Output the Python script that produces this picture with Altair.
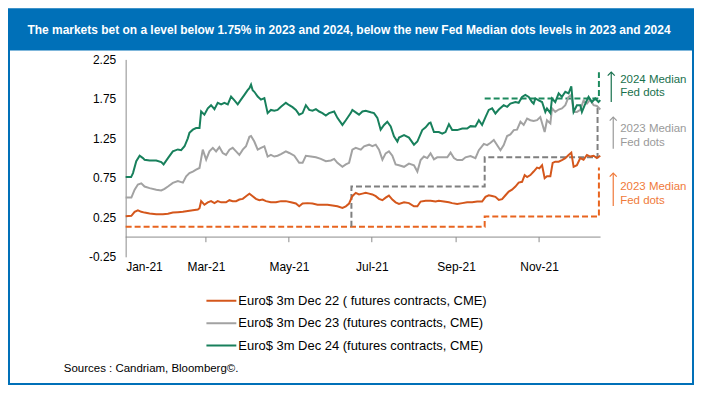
import altair as alt
import pandas as pd

TITLE = "The markets bet on a level below 1.75% in 2023 and 2024, below the new Fed Median dots levels in 2023 and 2024"
SOURCE = "Sources : Candriam, Bloomberg©."
SERIES = ["Euro$ 3m Dec 22 ( futures contracts, CME)",
          "Euro$ 3m Dec 23 (futures contracts, CME)",
          "Euro$ 3m Dec 24 (futures contracts, CME)"]
COLORS = ["#d4571c", "#a2a2a2", "#18805c"]

# day offsets from 2021-01-01 and values (%)
dec22_days = [0, 4.2, 6.6, 9, 11.5, 13.9, 17.6, 22.5, 27.4, 31.1, 34.7, 38.4, 42.1, 45.7, 49.4, 53.1, 54.3, 55.5, 57.9, 60.4,
              62.8, 65.3, 67.7, 70.2, 73.8, 76.3, 78.7, 81.2, 83.6, 86.1, 88.5, 91, 93.4, 95.8, 98.3, 100.7, 103.2, 106.8, 110.5, 114.2,
              117.8, 121.5, 125.2, 127.6, 130.1, 133.7, 137.4, 141.1, 144.7, 148.4, 152.1, 155.7, 159.4, 161.9, 164.3, 166.7, 169.2, 171.6, 174.1, 176.5,
              179, 181.4, 183.9, 186.3, 188.8, 191.2, 193.6, 196.1, 198.5, 201, 204.7, 208.3, 212, 214.5, 216.9, 220.6, 224.2, 227.9, 230.3, 234,
              237.7, 240.1, 243.8, 247.5, 251.1, 254.8, 258.5, 262.1, 264.6, 267, 269.5, 271.9, 274.4, 276.8, 279.3, 281.7, 284.1, 286.6, 289, 291.5,
              293.4, 295.2, 297.6, 300, 302.5, 304.2, 306.2, 308.1, 309.8, 312.3, 314, 315.9, 318.4, 320.8, 323.3, 325.7, 327.7, 329.4, 331.8, 334.3,
              336.7, 339.2, 341.6, 344.1, 346.5, 349]
dec22_vals = [0.265, 0.27, 0.32, 0.34, 0.32, 0.31, 0.30, 0.29, 0.29, 0.295, 0.31, 0.315, 0.32, 0.33, 0.34, 0.35, 0.366, 0.455, 0.41, 0.44,
              0.455, 0.43, 0.455, 0.44, 0.44, 0.467, 0.455, 0.455, 0.475, 0.484, 0.518, 0.55, 0.518, 0.484, 0.467, 0.475, 0.455, 0.44, 0.44, 0.455,
              0.455, 0.44, 0.425, 0.39, 0.425, 0.43, 0.425, 0.41, 0.41, 0.41, 0.40, 0.39, 0.37, 0.39, 0.425, 0.518, 0.56, 0.54, 0.55, 0.56,
              0.55, 0.54, 0.518, 0.484, 0.467, 0.50, 0.526, 0.475, 0.44, 0.42, 0.44, 0.43, 0.39, 0.39, 0.45, 0.46, 0.46, 0.45, 0.46, 0.45,
              0.44, 0.43, 0.42, 0.43, 0.44, 0.44, 0.45, 0.45, 0.51, 0.53, 0.52, 0.51, 0.47, 0.48, 0.53, 0.576, 0.60, 0.64, 0.69, 0.70,
              0.785, 0.76, 0.785, 0.83, 0.88, 0.87, 0.91, 0.745, 0.77, 0.77, 0.94, 0.955, 0.955, 0.975, 1.00, 1.04, 1.07, 0.89, 0.91, 1.00,
              0.98, 1.04, 1.02, 1.03, 1.00, 1.03]

dec23_days = [0, 4.2, 6.6, 9, 11.5, 13.9, 17.6, 22.5, 26.2, 28.6, 31.1, 34.7, 38.4, 42.1, 44.5, 46.9, 49.4, 51.8, 54.3, 56.7,
              59.2, 61.6, 64.1, 66.5, 68.9, 71.4, 73.8, 76.3, 78.7, 81.2, 83.6, 86.1, 88.5, 91, 92.2, 94.6, 97.1, 99.5, 102, 104.4,
              106.8, 109.3, 111.7, 114.2, 117.8, 120.3, 124, 127.6, 130.1, 132.5, 136.2, 139.9, 143.5, 147.2, 150.9, 153.3, 155.7, 159.4, 161.9, 164.3,
              166.7, 169.2, 172.9, 175.3, 179, 181.4, 183.9, 186.3, 188.8, 191.2, 193.6, 196.1, 198.5, 201, 204.7, 208.3, 212, 214.5, 216.9, 219.3,
              221.8, 224.2, 226.7, 229.1, 232.8, 236.5, 238.9, 241.4, 243.8, 247.5, 249.9, 253.6, 257.2, 259.7, 263.4, 265.8, 268.3, 270.7, 273.1, 275.6,
              278, 280.5, 282.9, 285.4, 287.8, 290.3, 292.7, 295.2, 297.6, 300, 302.5, 304.9, 306.6, 308.1, 309.8, 312.3, 313.5, 315.9, 318.4, 320.8,
              323.3, 325.7, 327.7, 329.4, 331.8, 334.3, 336.7, 339.2, 341.6, 344.1, 346.5, 349]
dec23_vals = [0.50, 0.50, 0.60, 0.665, 0.68, 0.64, 0.62, 0.60, 0.59, 0.61, 0.64, 0.686, 0.71, 0.69, 0.77, 0.81, 0.83, 0.855, 0.875, 1.107,
              0.98, 1.085, 1.13, 1.085, 1.14, 1.065, 1.04, 1.107, 1.13, 1.085, 1.04, 1.107, 1.15, 1.27, 1.28, 1.21, 1.107, 1.13, 1.15, 1.02,
              1.04, 1.02, 1.03, 1.05, 1.085, 1.065, 1.03, 0.94, 0.94, 1.03, 1.02, 1.01, 0.99, 0.96, 0.97, 0.99, 0.94, 0.89, 0.92, 0.94,
              1.107, 1.13, 1.107, 1.15, 1.17, 1.15, 1.17, 1.107, 0.98, 1.06, 1.085, 1.03, 0.92, 0.91, 0.89, 0.93, 0.91, 0.83, 0.975, 1.02,
              1.00, 1.06, 0.985, 1.01, 1.01, 1.01, 1.07, 1.00, 0.975, 0.975, 1.01, 1.025, 1.00, 1.10, 1.18, 1.165, 1.195, 1.23, 1.165, 1.10,
              1.165, 1.28, 1.30, 1.355, 1.36, 1.46, 1.42, 1.50, 1.48, 1.47, 1.48, 1.52, 1.42, 1.33, 1.48, 1.44, 1.63, 1.585, 1.615, 1.63,
              1.67, 1.775, 1.80, 1.585, 1.585, 1.61, 1.73, 1.69, 1.74, 1.67, 1.66, 1.615]

dec24_days = [0, 4, 5.4, 7.8, 10.3, 12.7, 13.9, 17.6, 22.5, 26.2, 27.9, 31.1, 34.7, 38.4, 40.8, 43.3, 45.7, 46.9, 49.4, 51.8,
              54.3, 55.5, 57.9, 60.4, 62.8, 65.3, 67.7, 70.2, 72.6, 75.1, 77.5, 80, 82.4, 84.8, 87.3, 89.7, 91, 92.2, 93.4, 94.6,
              97.1, 99.5, 102, 104.4, 106.8, 109.3, 111.7, 114.2, 117.8, 120.3, 122.7, 125.2, 127.6, 130.1, 132.5, 135, 137.4, 139.9, 142.3, 144.7,
              147.2, 149.6, 153.3, 155.7, 159.4, 161.9, 165.5, 166.7, 169.2, 171.6, 174.1, 176.5, 180.2, 182.6, 185.1, 187.5, 190, 192.4, 194.9, 197.3,
              199.8, 201, 204.7, 208.3, 212, 214.5, 218.1, 220.6, 223, 224.2, 226.7, 230.3, 232.8, 235.2, 237.7, 240.1, 243.8, 247.5, 251.1, 253.6,
              257.2, 259.7, 262.1, 264.6, 267, 269.5, 271.9, 274.4, 278, 280.5, 282.9, 286.6, 289, 291.5, 293.9, 296.4, 298.8, 300, 301.3, 303.7,
              306.2, 308.6, 309.8, 312.3, 313.5, 315.9, 318.4, 320.8, 323.3, 325.7, 327.7, 329.4, 331.8, 334.3, 335.5, 338, 340.4, 342.8, 345.3, 347.7,
              349]
dec24_vals = [0.76, 0.76, 0.81, 0.96, 1.03, 1.00, 0.98, 0.97, 0.97, 0.95, 0.92, 1.00, 1.085, 1.11, 1.10, 1.15, 1.25, 1.32, 1.36, 1.38,
              1.38, 1.59, 1.55, 1.63, 1.67, 1.62, 1.70, 1.68, 1.70, 1.68, 1.78, 1.73, 1.68, 1.74, 1.80, 1.86, 1.885, 1.93, 1.86, 1.84,
              1.78, 1.74, 1.76, 1.57, 1.61, 1.60, 1.61, 1.65, 1.70, 1.67, 1.645, 1.61, 1.55, 1.57, 1.67, 1.61, 1.60, 1.62, 1.59, 1.57,
              1.54, 1.57, 1.59, 1.51, 1.42, 1.48, 1.57, 1.61, 1.58, 1.55, 1.59, 1.60, 1.58, 1.57, 1.51, 1.36, 1.42, 1.46, 1.40, 1.275,
              1.21, 1.26, 1.29, 1.26, 1.17, 1.21, 1.355, 1.39, 1.44, 1.45, 1.33, 1.33, 1.31, 1.33, 1.43, 1.355, 1.355, 1.375, 1.375, 1.405,
              1.40, 1.48, 1.42, 1.52, 1.61, 1.63, 1.565, 1.615, 1.67, 1.65, 1.69, 1.71, 1.70, 1.775, 1.80, 1.775, 1.71, 1.69, 1.755, 1.73,
              1.71, 1.585, 1.63, 1.57, 1.755, 1.71, 1.82, 1.775, 1.84, 1.82, 1.91, 1.585, 1.67, 1.67, 1.585, 1.69, 1.775, 1.71, 1.755, 1.71,
              1.735]

# Fed median dots (step dashed lines)
dots22_days = [0, 264, 264, 348, 348]
dots22_vals = [0.13, 0.13, 0.26, 0.26, 0.88]
dots23_days = [166, 166, 264, 264, 347, 347]
dots23_vals = [0.13, 0.64, 0.64, 1.01, 1.01, 1.66]
dots24_days = [264, 348, 348]
dots24_vals = [1.755, 1.755, 2.11]
DOT_COLORS = ["#e8641f", "#7f7f7f", "#1d8a5e"]

# annotations
ANN_LINES = [["2024 Median", "Fed dots"], ["2023 Median", "Fed dots"], ["2023 Median", "Fed dots"]]
ANN_TEXT_Y = [[1.995, 1.826], [1.364, 1.187], [0.639, 0.458]]
ANN_ARROW = [[1.71, 2.09], [1.12, 1.52], [0.395, 0.81]]
ANN_COLORS = ["#17704d", "#9a9a9a", "#f07a3a"]

START = pd.Timestamp("2021-01-01")


def to_dates(days):
    return START + pd.to_timedelta(days, unit="D")


series_df = pd.concat([
    pd.DataFrame({"date": to_dates(d), "v": v, "series": s})
    for d, v, s in [(dec22_days, dec22_vals, SERIES[0]),
                    (dec23_days, dec23_vals, SERIES[1]),
                    (dec24_days, dec24_vals, SERIES[2])]
], ignore_index=True)

dots_df = pd.concat([
    pd.DataFrame({"date": to_dates(d), "v": v, "grp": g, "col": c, "i": list(range(len(d)))})
    for d, v, g, c in [(dots22_days, dots22_vals, "d22", DOT_COLORS[0]),
                       (dots23_days, dots23_vals, "d23", DOT_COLORS[1]),
                       (dots24_days, dots24_vals, "d24", DOT_COLORS[2])]
], ignore_index=True)

W, H = 476, 198
x_scale = alt.Scale(domain=[alt.DateTime(year=2021, month=1, date=1), alt.DateTime(year=2021, month=12, date=16)])
y_scale = alt.Scale(domain=[-0.25, 2.25], nice=False, zero=False)
month_vals = [alt.DateTime(year=2021, month=m, date=1) for m in [1, 3, 5, 7, 9, 11]]

x_axis = alt.Axis(values=month_vals, format="%b-%y", title=None, domain=False, ticks=False, grid=False,
                  labelFontSize=12, labelFont="Liberation Sans", labelColor="#000000", labelPadding=5,
                  labelOverlap=False)
y_axis = alt.Axis(values=[-0.25, 0.25, 0.75, 1.25, 1.75, 2.25],
                  labelExpr="replace(format(datum.value, '.2f'), '\u2212', '-')",
                  title=None, grid=False, ticks=False, domain=True, domainColor="#8c8c8c",
                  labelFontSize=12, labelFont="Liberation Sans", labelColor="#000000", labelPadding=10,
                  labelOverlap=False, labelFlush=False)


def X(field):
    return alt.X(field, type="temporal", scale=x_scale, axis=x_axis)


def Y(field):
    return alt.Y(field, type="quantitative", scale=y_scale, axis=y_axis)


# zero line and ticks
zero_df = pd.DataFrame({"date": to_dates([0]), "date2": to_dates([349.2]), "v": [0.0]})
zero_line = alt.Chart(zero_df).mark_rule(color="#8c8c8c", strokeWidth=1).encode(
    x=X("date"), x2="date2:T", y=Y("v"))
tick_df = pd.DataFrame({"date": to_dates([59, 120, 181, 243, 304]), "v": [0.0] * 5, "v2": [-0.065] * 5})
ticks = alt.Chart(tick_df).mark_rule(color="#8c8c8c", strokeWidth=1).encode(
    x=X("date"), y=Y("v"), y2="v2:Q")

dots = alt.Chart(dots_df).mark_line(strokeDash=[6, 3], strokeWidth=2).encode(
    x=X("date"), y=Y("v"), detail="grp:N", order="i:Q", stroke=alt.Stroke("col:N", scale=None))

lines = alt.Chart(series_df).mark_line(strokeWidth=2).encode(
    x=X("date"), y=Y("v"),
    color=alt.Color("series:N", scale=alt.Scale(domain=SERIES, range=COLORS),
                    sort=SERIES,
                    legend=alt.Legend(title=None, orient="none", legendX=80, legendY=234, direction="vertical",
                                      symbolType="stroke", symbolSize=900, symbolStrokeWidth=2,
                                      labelFontSize=13, labelFont="Liberation Sans", labelColor="#000000",
                                      labelOffset=1, clipHeight=16, rowPadding=6.5, padding=0, labelLimit=400)))

# annotations
ann_rows = []
for lines_, ys, c in zip(ANN_LINES, ANN_TEXT_Y, ANN_COLORS):
    for t, yv in zip(lines_, ys):
        ann_rows.append({"t": t, "v": yv, "c": c})
ann_df = pd.DataFrame(ann_rows)
arrow_df = pd.DataFrame({"v": [a[0] for a in ANN_ARROW], "v2": [a[1] for a in ANN_ARROW], "c": ANN_COLORS,
                         "px": [487, 489, 489]})

ann_text = alt.Chart(ann_df).mark_text(align="left", baseline="middle", fontSize=11.5, font="Liberation Sans").encode(
    x=alt.value(496), y=Y("v"), text="t:N", fill=alt.Fill("c:N", scale=None))
arrow_shaft = alt.Chart(arrow_df).mark_rule(strokeWidth=1.2).encode(
    x=alt.X("px:Q", scale=None), y=Y("v"), y2="v2:Q", stroke=alt.Stroke("c:N", scale=None))
arrow_head = alt.Chart(arrow_df).mark_point(shape="M-1,1L0,0L1,1", filled=False, size=50, strokeWidth=1.2,
                                            opacity=1).encode(
    x=alt.X("px:Q", scale=None), y=Y("v2"), stroke=alt.Stroke("c:N", scale=None))

# frame, header, source
one = pd.DataFrame({"a": [0]})
frame = alt.Chart(one).mark_rect(filled=False, stroke="#0070b8", strokeWidth=2).encode(
    x=alt.value(-117), x2=alt.value(569), y=alt.value(-50), y2=alt.value(325.5))
header = alt.Chart(one).mark_rect(fill="#0070b8").encode(
    x=alt.value(-118), x2=alt.value(570), y=alt.value(-51), y2=alt.value(-9))
title = alt.Chart(one).mark_text(fill="#ffffff", fontWeight="bold", fontSize=12, font="Liberation Sans",
                                 align="center", baseline="middle").encode(
    x=alt.value(224), y=alt.value(-29), text=alt.value(TITLE))
source = alt.Chart(one).mark_text(fill="#000000", fontSize=11.5, font="Liberation Sans",
                                  align="left", baseline="middle").encode(
    x=alt.value(-62), y=alt.value(311), text=alt.value(SOURCE))

chart = alt.layer(
    frame, header, title, source, zero_line, ticks, dots, lines, arrow_shaft, arrow_head, ann_text
).properties(
    width=W, height=H,
    background="#ffffff",
    autosize=alt.AutoSizeParams(type="none"),
    padding={"left": 118, "top": 51, "right": 95, "bottom": 130},
).configure_view(stroke=None).configure_axis(labelOverlap=False)

chart.save("out.html", embed_options={"renderer": "svg", "actions": False})
